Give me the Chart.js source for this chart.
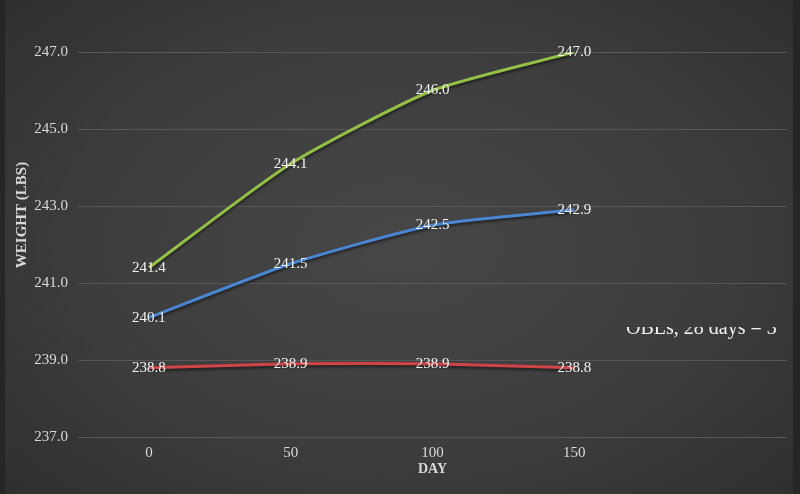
<!DOCTYPE html>
<html>
<head>
<meta charset="utf-8">
<script src="https://cdn.jsdelivr.net/npm/chart.js@4/dist/chart.umd.min.js"></script>
<style>
  html, body { margin: 0; padding: 0; background: #2a2a2a; }
  #wrap {
    position: relative;
    width: 800px;
    height: 494px;
    background: radial-gradient(ellipse 70% 75% at 50% 50%, #474747 0%, #3d3d3d 55%, #2e2e2e 100%);
    box-shadow: inset 5px 0 0 #262626, inset -7px 0 0 #262626;
  }
  canvas { display: block; }
</style>
</head>
<body>
<div id="wrap"><canvas id="chart" width="800" height="494"></canvas></div>
<script>
const days = ["0", "50", "100", "150", ""];
const greenSeries = [241.4, 244.1, 246.0, 247.0];
const blueSeries = [240.1, 241.5, 242.5, 242.9];
const redSeries = [238.8, 238.9, 238.9, 238.8];
const yTicks = [237, 239, 241, 243, 245, 247];

const serif = "'Liberation Serif', 'Times New Roman', serif";

// soft shadow under each line, like the office style
const lineShadow = {
  id: "lineShadow",
  beforeDatasetDraw(chart) {
    const ctx = chart.ctx;
    ctx.save();
    ctx.shadowColor = "rgba(0,0,0,0.55)";
    ctx.shadowBlur = 3;
    ctx.shadowOffsetY = 2;
  },
  afterDatasetDraw(chart) {
    chart.ctx.restore();
  }
};

const labelsAndTitles = {
  id: "labelsAndTitles",
  afterDatasetsDraw(chart) {
    const ctx = chart.ctx;
    ctx.save();
    ctx.font = "15px " + serif;
    ctx.fillStyle = "#f2f2f2";
    ctx.textAlign = "center";
    ctx.textBaseline = "middle";
    chart.data.datasets.forEach((ds, i) => {
      chart.getDatasetMeta(i).data.forEach((pt, j) => {
        if (ds.data[j] == null) return;
        ctx.fillText(ds.data[j].toFixed(1), pt.x, pt.y);
      });
    });

    // axis titles
    ctx.font = "bold 14px " + serif;
    ctx.fillStyle = "#d9d9d9";
    const area = chart.chartArea;
    ctx.fillText("DAY", (area.left + area.right) / 2, 469);
    ctx.font = "bold 15px " + serif;
    ctx.save();
    ctx.translate(22, 215);
    ctx.rotate(-Math.PI / 2);
    ctx.fillText("WEIGHT (LBS)", 0, 0);
    ctx.restore();

    // legend text that is cut off in the original
    ctx.save();
    ctx.beginPath();
    ctx.rect(600, 327, 200, 20);
    ctx.clip();
    ctx.font = "20px " + serif;
    ctx.fillStyle = "#f2f2f2";
    ctx.textAlign = "left";
    ctx.textBaseline = "alphabetic";
    ctx.fillText("OBLs, 28 days = 3", 626, 334);
    ctx.restore();
    ctx.restore();
  }
};

new Chart(document.getElementById("chart"), {
  type: "line",
  data: {
    labels: days,
    datasets: [
      { label: "green", data: greenSeries, borderColor: "#93bf47", borderWidth: 3, tension: 0.2 },
      { label: "blue", data: blueSeries, borderColor: "#4a85d1", borderWidth: 3, tension: 0.2 },
      { label: "red", data: redSeries, borderColor: "#cf4447", borderWidth: 3, tension: 0.2 }
    ]
  },
  options: {
    responsive: false,
    animation: false,
    events: [],
    layout: { padding: { top: 52, right: 13, bottom: 0, left: 0 } },
    elements: { point: { radius: 0 } },
    plugins: { legend: { display: false }, tooltip: { enabled: false } },
    scales: {
      x: {
        offset: true,
        grid: { display: false, drawTicks: false },
        border: { display: false },
        ticks: { color: "#d9d9d9", font: { family: serif, size: 15 }, padding: 7, maxRotation: 0 },
        afterFit(scale) { scale.height = 57; }
      },
      y: {
        min: 237,
        max: 247,
        afterBuildTicks(scale) { scale.ticks = yTicks.map((v) => ({ value: v })); },
        grid: { color: "#575757", lineWidth: 1, drawTicks: false },
        border: { display: false },
        ticks: {
          color: "#d9d9d9",
          font: { family: serif, size: 15 },
          padding: 10,
          callback: (v) => Number(v).toFixed(1)
        },
        afterFit(scale) { scale.width = 78; }
      }
    }
  },
  plugins: [lineShadow, labelsAndTitles]
});
</script>
</body>
</html>
